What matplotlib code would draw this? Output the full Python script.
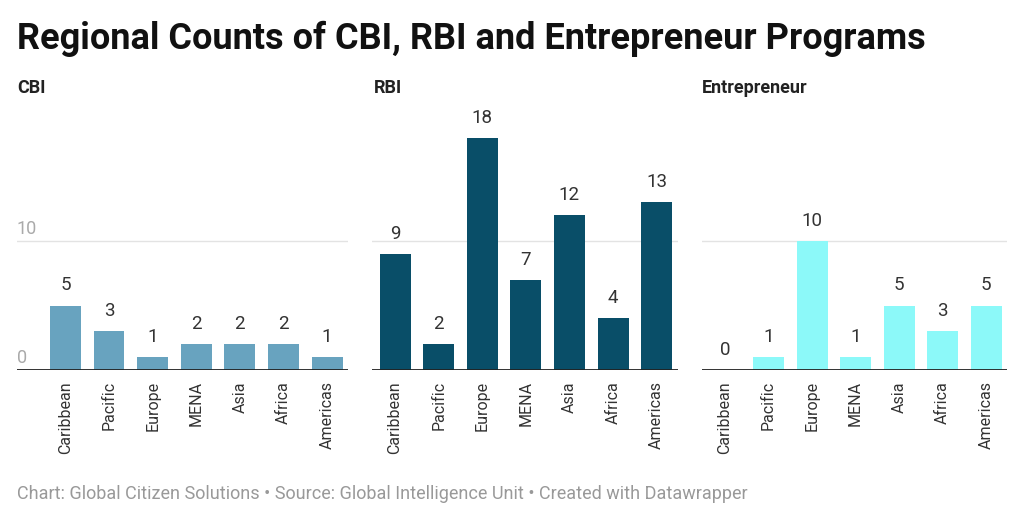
import matplotlib
matplotlib.use('Agg')
import matplotlib.pyplot as plt

plt.rcParams['font.family'] = ['Roboto', 'DejaVu Sans']

regions = ['Caribbean', 'Pacific', 'Europe', 'MENA', 'Asia', 'Africa', 'Americas']
cbi = [5, 3, 1, 2, 2, 2, 1]
rbi = [9, 2, 18, 7, 12, 4, 13]
entrepreneur = [0, 1, 10, 1, 5, 3, 5]

panels = [
    ('CBI', cbi, '#68a3bf'),
    ('RBI', rbi, '#094e68'),
    ('Entrepreneur', entrepreneur, '#8cf9f9'),
]

W, H = 1024, 524
fig = plt.figure(figsize=(W / 100, H / 100), dpi=100)

# axes boxes in pixels: left, right, and x-limits (in bar units)
boxes = [(17, 348, -1.11, 6.48), (372, 678, -0.53, 6.49), (702, 1007, -0.53, 6.48)]
top_px, base_px = 110, 370
ymax = (base_px - top_px) / 12.9

for (name, vals, color), (l, r, x0, x1) in zip(panels, boxes):
    ax = fig.add_axes([l / W, 1 - base_px / H, (r - l) / W, (base_px - top_px) / H])
    x = range(len(regions))
    ax.bar(x, vals, width=0.71, color=color, zorder=3)
    ax.set_xlim(x0, x1)
    ax.set_ylim(0, ymax)
    ax.axhline(10, color='#e3e3e3', lw=1, zorder=1)
    ax.axhline(0, color='#222222', lw=1.3, zorder=4)
    for s in ax.spines.values():
        s.set_visible(False)
    ax.set_yticks([])
    ax.set_xticks(list(x))
    ax.set_xticklabels(regions, rotation=90, fontsize=11.5, color='#333333')
    ax.tick_params(axis='x', length=0, pad=8)
    for i, v in enumerate(vals):
        ax.annotate(str(v), (i, v), xytext=(0, 8), textcoords='offset points',
                    ha='center', va='bottom', fontsize=13.5, color='#333333')
    fig.text(l / W if name != 'RBI' else 374 / W, 1 - 88 / H, name,
             fontsize=13, fontweight='bold', color='#222222', va='center')
    if name == 'CBI':
        ax.annotate('10', (x0, 10), xytext=(0, 2.5), textcoords='offset points',
                    fontsize=13, color='#aaaaaa', va='bottom', ha='left')
        ax.annotate('0', (x0, 0), xytext=(0, 2.5), textcoords='offset points',
                    fontsize=13, color='#aaaaaa', va='bottom', ha='left')

fig.text(17 / W, 1 - 39 / H, 'Regional Counts of CBI, RBI and Entrepreneur Programs',
         fontsize=26, fontweight='bold', color='#111111', va='center')
fig.text(17 / W, 1 - 494 / H,
         'Chart: Global Citizen Solutions \u2022 Source: Global Intelligence Unit \u2022 Created with Datawrapper',
         fontsize=13, color='#999999', va='center')

fig.savefig('out.png', dpi=100, facecolor='white')
